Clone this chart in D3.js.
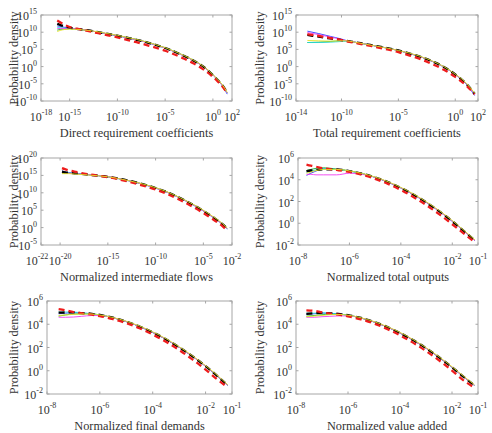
<!DOCTYPE html>
<html>
<head>
<meta charset="utf-8">
<script src="https://cdn.jsdelivr.net/npm/d3@7"></script>
<style>
  body { margin: 0; background: #fff; }
  svg { display: block; }
  text { font-family: "Liberation Serif", "Times New Roman", Times, serif; }
</style>
</head>
<body>
<div id="chart"></div>
<script>
// all values are log10 exponents

// panel 1: direct requirement coefficients
var directX      = [-16.3,-16,-15.5,-15,-14,-13,-12,-11,-10,-9,-8,-7,-6,-5,-4,-3,-2,-1,0,0.5,1,1.5];
var directBlack  = [12.4,12.1,11.7,11.3,10.9,10.5,10.0,9.5,9.0,8.4,7.8,7.1,6.3,5.4,4.3,3.1,1.7,0.0,-2.5,-3.9,-5.5,-7.6];
var directRed    = [13.4,12.9,12.1,11.5,10.9,10.3,9.7,9.1,8.5,7.8,7.1,6.3,5.5,4.6,3.5,2.3,0.9,-0.8,-3.0,-4.3,-5.8,-7.7];
var directBlue   = [11.8,11.7,11.4,11.2,10.9,10.5,10.0,9.5,9.0,8.4,7.8,7.1,6.3,5.4,4.3,3.1,1.7,0.0,-2.4,-3.9,-5.6,-8.0];
var directGreen  = [10.6,10.8,10.9,11.0,10.8,10.5,10.0,9.5,9.0,8.5,7.9,7.2,6.4,5.5,4.4,3.2,1.8,0.1,-2.3,-3.8,-5.4,-7.6];
var directCyan   = [11.3,11.3,11.2,11.1,10.9,10.5,10.0,9.5,9.0,8.4,7.8,7.1,6.3,5.4,4.3,3.1,1.7,0.0,-2.4,-3.9,-5.5,-7.7];
var directMag    = [11.0,11.1,11.1,11.1,10.9,10.5,10.0,9.5,9.0,8.4,7.8,7.1,6.3,5.4,4.3,3.1,1.7,0.0,-2.4,-3.9,-5.5,-7.7];
var directYellow = [10.2,10.5,10.8,10.9,10.8,10.5,10.1,9.6,9.1,8.5,7.9,7.2,6.4,5.5,4.4,3.2,1.8,0.1,-2.3,-3.7,-5.3,-7.5];

// panel 2: total requirement coefficients
var totalX      = [-13,-12,-11,-10,-9.6,-9,-8,-7,-6,-5,-4,-3,-2,-1,0,0.5,1,1.7];
var totalBlack  = [9.2,8.7,8.2,7.7,7.5,7.2,6.6,6.0,5.4,4.7,3.8,2.8,1.5,-0.1,-2.3,-3.6,-5.1,-7.9];
var totalRed    = [9.4,8.9,8.3,7.7,7.4,7.0,6.4,5.7,5.0,4.2,3.2,2.1,0.7,-0.9,-3.0,-4.2,-5.6,-8.0];
var totalBlue   = [10.3,9.6,8.8,8.0,7.6,7.2,6.6,6.0,5.4,4.7,3.8,2.8,1.5,-0.1,-2.3,-3.6,-5.2,-8.4];
var totalGreen  = [7.0,7.1,7.3,7.5,7.5,7.2,6.6,6.0,5.4,4.7,3.8,2.8,1.5,0.0,-2.2,-3.5,-5.0,-7.8];
var totalCyan   = [7.0,7.0,7.1,7.3,7.4,7.2,6.6,6.0,5.4,4.7,3.8,2.8,1.5,-0.1,-2.3,-3.6,-5.1,-8.0];
var totalMag    = [9.9,9.3,8.6,7.9,7.5,7.2,6.6,6.0,5.4,4.7,3.8,2.8,1.5,-0.1,-2.3,-3.6,-5.1,-8.1];
var totalYellow = [7.6,7.5,7.4,7.5,7.5,7.2,6.6,6.0,5.4,4.7,3.9,2.9,1.6,0.0,-2.2,-3.4,-4.9,-7.7];

// panel 3: normalized intermediate flows
var interX      = [-19.8,-19.5,-19,-18.5,-18,-17,-15,-13,-11,-9,-7,-5,-4,-3,-2.5];
var interBlack  = [16.1,15.9,15.7,15.6,15.5,15.2,14.6,13.6,12.2,10.4,7.9,4.8,3.0,1.0,-0.3];
var interRed    = [17.1,16.8,16.4,16.1,15.8,15.3,14.5,13.3,11.8,9.9,7.3,4.2,2.4,0.4,-0.9];
var interBlue   = [16.3,16.0,15.8,15.6,15.5,15.2,14.6,13.6,12.2,10.4,7.9,4.8,3.0,1.0,-0.3];
var interGreen  = [15.6,15.6,15.6,15.5,15.4,15.2,14.6,13.6,12.3,10.5,8.0,4.9,3.1,1.1,-0.2];
var interCyan   = [16.0,15.9,15.7,15.6,15.5,15.2,14.6,13.6,12.2,10.4,7.9,4.8,3.0,1.0,-0.3];
var interMag    = [15.8,15.7,15.6,15.5,15.4,15.2,14.6,13.6,12.2,10.4,7.9,4.8,3.0,1.0,-0.3];
var interYellow = [15.5,15.5,15.5,15.4,15.3,15.1,14.6,13.6,12.3,10.5,8.0,5.0,3.2,1.2,-0.1];

// panel 4: normalized total outputs
var outX      = [-7.67,-7.5,-7.3,-7.0,-6.5,-6,-5.5,-5,-4.5,-4,-3.5,-3,-2.5,-2,-1.5,-1.12];
var outBlack  = [4.8,4.85,4.9,4.95,4.95,4.8,4.56,4.22,3.78,3.25,2.62,1.9,1.09,0.18,-0.82,-1.6];
var outRed    = [5.4,5.3,5.2,5.05,4.9,4.72,4.45,4.08,3.62,3.06,2.4,1.65,0.82,-0.1,-1.05,-1.75];
var outBlue   = [4.4,4.6,4.8,5.0,4.95,4.8,4.56,4.22,3.78,3.25,2.62,1.9,1.09,0.18,-0.82,-1.6];
var outGreen  = [4.85,4.95,5.05,5.1,4.98,4.82,4.57,4.23,3.79,3.26,2.63,1.91,1.1,0.2,-0.8,-1.58];
var outCyan   = [4.7,4.8,4.9,5.0,4.95,4.8,4.56,4.22,3.78,3.25,2.62,1.9,1.09,0.18,-0.82,-1.6];
var outMag    = [4.5,4.5,4.45,4.45,4.45,4.6,4.5,4.22,3.78,3.25,2.62,1.9,1.09,0.18,-0.82,-1.6];
var outYellow = [4.6,4.7,4.85,4.95,4.95,4.82,4.58,4.25,3.82,3.3,2.68,1.96,1.15,0.25,-0.75,-1.52];

// panel 5: normalized final demands
var finalX      = [-7.56,-7.3,-7,-6.7,-6.3,-6,-5.5,-5,-4.5,-4,-3.5,-3,-2.5,-2,-1.5,-1.16];
var finalBlack  = [5.0,5.01,5.02,4.96,4.9,4.8,4.56,4.23,3.81,3.3,2.71,2.02,1.25,0.39,-0.56,-1.25];
var finalRed    = [5.3,5.2,5.05,4.95,4.82,4.7,4.44,4.1,3.66,3.12,2.5,1.78,0.98,0.1,-0.85,-1.42];
var finalBlue   = [4.9,4.95,5.0,4.96,4.9,4.8,4.56,4.23,3.81,3.3,2.71,2.02,1.25,0.39,-0.56,-1.25];
var finalGreen  = [4.7,4.8,4.88,4.9,4.88,4.8,4.56,4.23,3.81,3.3,2.71,2.02,1.25,0.39,-0.56,-1.25];
var finalCyan   = [5.05,5.05,5.05,4.98,4.9,4.8,4.56,4.23,3.81,3.3,2.71,2.02,1.25,0.39,-0.56,-1.25];
var finalMag    = [4.6,4.6,4.62,4.68,4.75,4.75,4.56,4.23,3.81,3.3,2.71,2.02,1.25,0.39,-0.56,-1.25];
var finalYellow = [4.75,4.8,4.85,4.88,4.88,4.8,4.58,4.26,3.85,3.35,2.76,2.07,1.3,0.44,-0.5,-1.2];

// panel 6: normalized value added
var valueX      = [-7.6,-7.3,-7,-6.7,-6.3,-6,-5.5,-5,-4.5,-4,-3.5,-3,-2.5,-2,-1.5,-1.14];
var valueBlack  = [4.9,4.95,4.98,4.94,4.88,4.78,4.54,4.2,3.77,3.25,2.64,1.94,1.16,0.3,-0.62,-1.25];
var valueRed    = [5.2,5.15,5.02,4.92,4.8,4.68,4.42,4.06,3.6,3.05,2.42,1.7,0.9,0.02,-0.92,-1.45];
var valueBlue   = [4.85,4.9,4.96,4.94,4.88,4.78,4.54,4.2,3.77,3.25,2.64,1.94,1.16,0.3,-0.62,-1.25];
var valueGreen  = [4.7,4.75,4.82,4.86,4.85,4.78,4.54,4.2,3.77,3.25,2.64,1.94,1.16,0.3,-0.62,-1.25];
var valueCyan   = [4.95,4.95,4.98,4.94,4.88,4.78,4.54,4.2,3.77,3.25,2.64,1.94,1.16,0.3,-0.62,-1.25];
var valueMag    = [4.6,4.6,4.65,4.68,4.72,4.72,4.54,4.2,3.77,3.25,2.64,1.94,1.16,0.3,-0.62,-1.25];
var valueYellow = [4.65,4.7,4.76,4.82,4.84,4.78,4.56,4.23,3.81,3.3,2.69,1.99,1.21,0.35,-0.56,-1.2];

// tick exponents
var directXTicks = [-18,-15,-10,-5,0,2];
var totalXTicks  = [-14,-10,-5,0,2];
var interXTicks  = [-22,-20,-15,-10,-5,-2];
var smallXTicks  = [-8,-6,-4,-2,-1];
var bigYTicks    = [-10,-5,0,5,10,15];
var interYTicks  = [-5,0,5,10,15,20];
var smallYTicks  = [-2,0,2,4,6];

var xLabels = ["Direct requirement coefficients", "Total requirement coefficients",
               "Normalized intermediate flows", "Normalized total outputs",
               "Normalized final demands", "Normalized value added"];

var colors = {blue: "#2c3cff", green: "#1fae2a", cyan: "#22d6d6", mag: "#f03cf0",
              yellow: "#e6e22a", black: "#000", red: "#ee1c1c"};

var W = 492, H = 433;

var panels = [
  {left: 41,  top: 15,  right: 232, bottom: 101, xd: [-18,2],  yd: [-10,15], xt: directXTicks, yt: bigYTicks,
   x: directX, s: {blue: directBlue, green: directGreen, cyan: directCyan, mag: directMag, black: directBlack, red: directRed, yellow: directYellow}},
  {left: 296, top: 15,  right: 478, bottom: 101, xd: [-14,2],  yd: [-10,15], xt: totalXTicks, yt: bigYTicks,
   x: totalX, s: {blue: totalBlue, green: totalGreen, cyan: totalCyan, mag: totalMag, black: totalBlack, red: totalRed, yellow: totalYellow}},
  {left: 41,  top: 158, right: 232, bottom: 245, xd: [-22,-2], yd: [-5,20],  xt: interXTicks, yt: interYTicks,
   x: interX, s: {blue: interBlue, green: interGreen, cyan: interCyan, mag: interMag, black: interBlack, red: interRed, yellow: interYellow}},
  {left: 298, top: 158, right: 478, bottom: 245, xd: [-8,-1],  yd: [-2,6],   xt: smallXTicks, yt: smallYTicks,
   x: outX, s: {blue: outBlue, green: outGreen, cyan: outCyan, mag: outMag, black: outBlack, red: outRed, yellow: outYellow}},
  {left: 47,  top: 301, right: 232, bottom: 394, xd: [-8,-1],  yd: [-2,6],   xt: smallXTicks, yt: smallYTicks,
   x: finalX, s: {blue: finalBlue, green: finalGreen, cyan: finalCyan, mag: finalMag, black: finalBlack, red: finalRed, yellow: finalYellow}},
  {left: 296, top: 301, right: 478, bottom: 394, xd: [-8,-1],  yd: [-2,6],   xt: smallXTicks, yt: smallYTicks,
   x: valueX, s: {blue: valueBlue, green: valueGreen, cyan: valueCyan, mag: valueMag, black: valueBlack, red: valueRed, yellow: valueYellow}}
];

var svg = d3.select("#chart").append("svg")
    .attr("width", W)
    .attr("height", H);

function powLabel(sel, e) {
    sel.append("tspan").text("10");
    sel.append("tspan")
        .attr("dy", -6)
        .style("font-size", "8px")
        .text(e < 0 ? "-" + (-e) : e);
}

panels.forEach(function(p, i) {
    var x = d3.scaleLog()
        .domain([Math.pow(10, p.xd[0]), Math.pow(10, p.xd[1])])
        .range([p.left, p.right]);
    var y = d3.scaleLog()
        .domain([Math.pow(10, p.yd[0]), Math.pow(10, p.yd[1])])
        .range([p.bottom, p.top]);

    var g = svg.append("g");

    var clipId = "clip" + i;
    svg.append("clipPath").attr("id", clipId)
        .append("rect")
        .attr("x", p.left).attr("y", p.top)
        .attr("width", p.right - p.left).attr("height", p.bottom - p.top);

    // box
    g.append("rect")
        .attr("x", p.left).attr("y", p.top)
        .attr("width", p.right - p.left).attr("height", p.bottom - p.top)
        .attr("fill", "none")
        .attr("stroke", "#a6a6a6")
        .attr("stroke-width", 1);

    // ticks inward, bottom + top, left + right
    var tl = 2.5;
    p.xt.forEach(function(e, j) {
        var px = x(Math.pow(10, e));
        g.append("line").attr("x1", px).attr("x2", px).attr("y1", p.bottom).attr("y2", p.bottom - tl)
            .attr("stroke", "#a6a6a6");
        g.append("line").attr("x1", px).attr("x2", px).attr("y1", p.top).attr("y2", p.top + tl)
            .attr("stroke", "#a6a6a6");
        // the first two ticks of the flows panel sit very close, nudge the first one left
        var nudge = (j === 0 && x(Math.pow(10, p.xt[1])) - px < 25) ? -4 : 0;
        var t = g.append("text")
            .attr("x", px + nudge).attr("y", p.bottom + 20)
            .attr("text-anchor", "middle")
            .style("font-size", "12px")
            .attr("fill", "#333");
        powLabel(t, e);
    });
    p.yt.forEach(function(e) {
        var py = y(Math.pow(10, e));
        g.append("line").attr("x1", p.left).attr("x2", p.left + tl).attr("y1", py).attr("y2", py)
            .attr("stroke", "#a6a6a6");
        g.append("line").attr("x1", p.right).attr("x2", p.right - tl).attr("y1", py).attr("y2", py)
            .attr("stroke", "#a6a6a6");
        var t = g.append("text")
            .attr("x", p.left - 4).attr("y", py + 5)
            .attr("text-anchor", "end")
            .style("font-size", "12px")
            .attr("fill", "#333");
        powLabel(t, e);
    });

    // axis titles
    g.append("text")
        .attr("x", (p.left + p.right) / 2)
        .attr("y", p.bottom + 36)
        .attr("text-anchor", "middle")
        .style("font-size", "12.3px")
        .attr("fill", "#333")
        .text(xLabels[i]);
    g.append("text")
        .attr("transform", "translate(" + (i % 2 ? 264 : 18) + "," + ((p.top + p.bottom) / 2) + ") rotate(-90)")
        .attr("text-anchor", "middle")
        .style("font-size", "12.3px")
        .attr("fill", "#333")
        .text("Probability density");

    var line = d3.line()
        .x(function(d) { return x(Math.pow(10, d[0])); })
        .y(function(d) { return y(Math.pow(10, d[1])); })
        .curve(d3.curveMonotoneX);

    var lines = g.append("g").attr("clip-path", "url(#" + clipId + ")");
    ["blue", "green", "cyan", "mag", "black", "red", "yellow"].forEach(function(k) {
        var pts = p.x.map(function(v, j) { return [v, p.s[k][j]]; });
        var dashed = (k === "black" || k === "red");
        lines.append("path")
            .datum(pts)
            .attr("fill", "none")
            .attr("stroke", colors[k])
            .attr("stroke-width", dashed ? 2.3 : 0.9)
            .attr("stroke-dasharray", dashed ? "6,4" : null)
            .attr("d", line);
    });
});
</script>
</body>
</html>
